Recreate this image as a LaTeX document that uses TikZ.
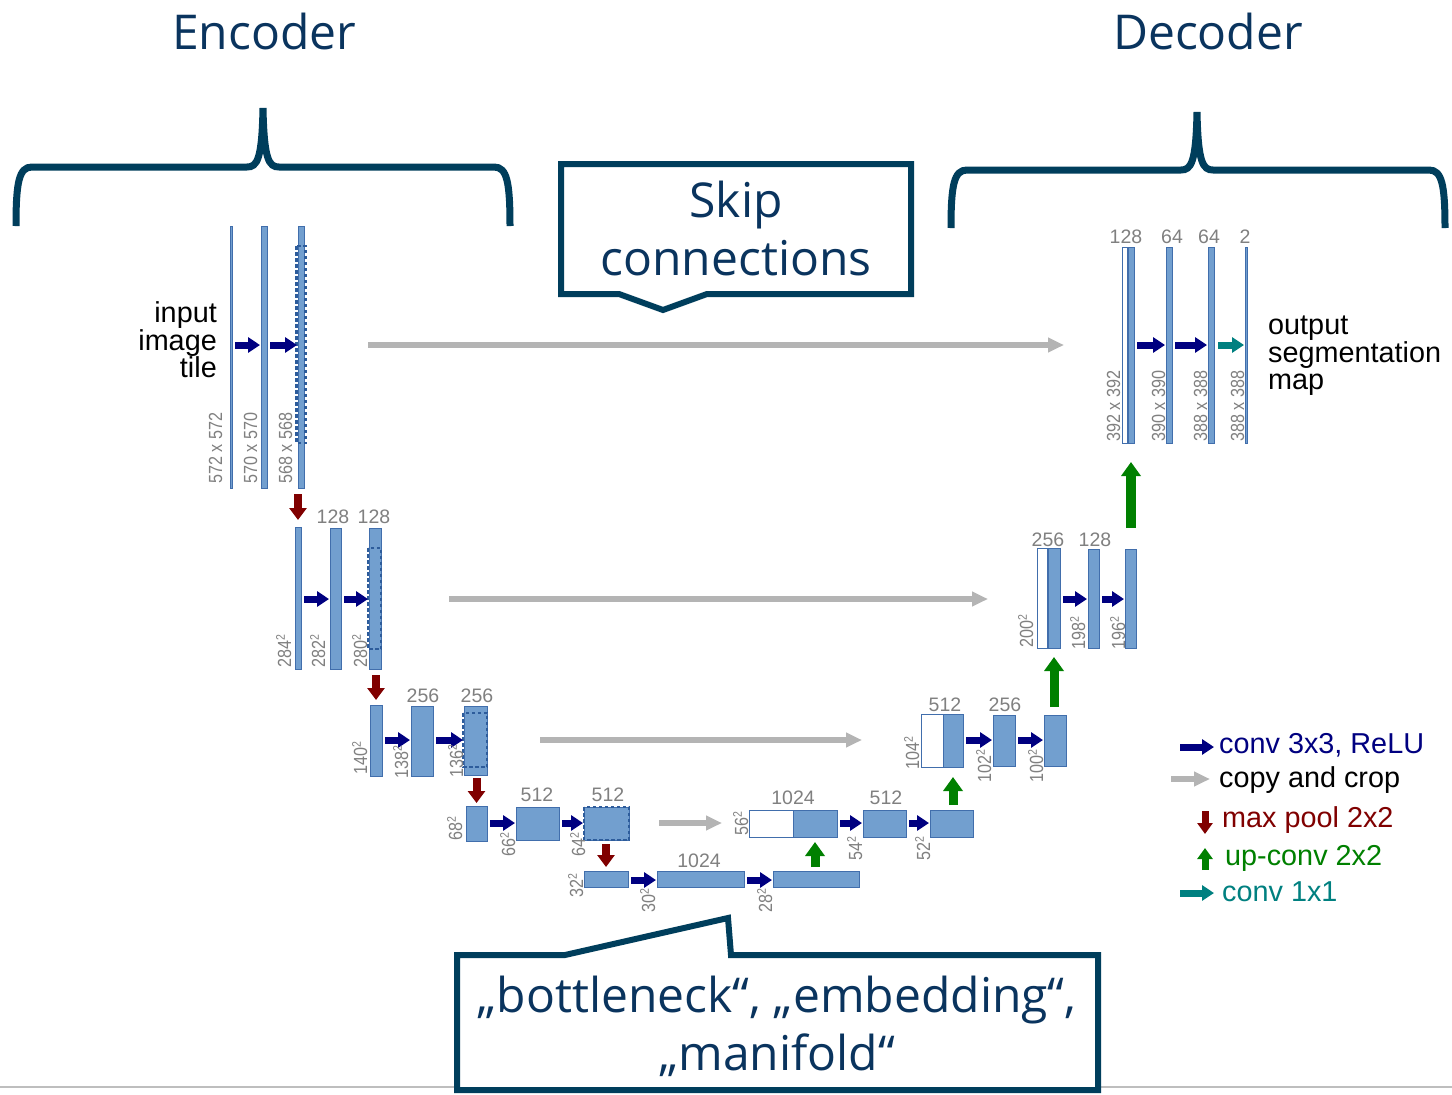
\documentclass[tikz,border=0pt]{standalone}
\usepackage{fontspec}
\setmainfont{Liberation Sans}
\newfontfamily\osans{Open Sans}
\newfontfamily\narrowsans[FakeStretch=0.85]{Liberation Sans}
\usetikzlibrary{arrows.meta}

\definecolor{blkfill}{RGB}{114,159,207}
\definecolor{blkline}{RGB}{65,110,172}
\definecolor{dashcol}{RGB}{45,92,155}
\definecolor{convcol}{RGB}{0,0,128}
\definecolor{copycol}{RGB}{180,180,180}
\definecolor{poolcol}{RGB}{128,0,0}
\definecolor{upcol}{RGB}{0,128,0}
\definecolor{onecol}{RGB}{0,128,128}
\definecolor{dimcol}{RGB}{128,128,128}
\definecolor{brcol}{RGB}{0,62,92}
\definecolor{ttlcol}{RGB}{10,52,94}
\definecolor{rulecol}{RGB}{190,190,190}

\newcommand\mydimfont{\narrowsans\fontsize{19}{19}\selectfont}
\newcommand\mychnfont{\fontsize{19.5}{19.5}\selectfont}
\newcommand\mylblfont{\fontsize{28.8}{27.5}\selectfont}
\newcommand\mytitlefont{\osans\fontsize{48}{58}\selectfont}
% squared exponent for the feature-map sizes
\newcommand\sqd{\raisebox{0.32em}{\fontsize{12.5}{12.5}\selectfont 2}}

\tikzset{
  blk/.style={rectangle, draw=blkline, fill=blkfill, line width=0.8pt,
    inner sep=0pt, outer sep=0pt, anchor=north west},
  wblk/.style={blk, fill=white},
  sz/.style 2 args={minimum width=#1pt, minimum height=#2pt},
  dashbox/.style={draw=dashcol, line width=2.8pt, dash pattern=on 3.5pt off 2.5pt},
  conv/.style={draw=convcol, line width=7pt, -{Triangle[length=12pt,width=15pt]},
    shorten <=3pt, shorten >=1pt},
  onebyone/.style={conv, draw=onecol},
  copyarr/.style={draw=copycol, line width=5.5pt, -{Triangle[length=16pt,width=14pt]}},
  pool/.style={draw=poolcol, line width=8pt, -{Triangle[length=12pt,width=17pt]}},
  upconv/.style={draw=upcol, line width=9pt, -{Triangle[length=14pt,width=19pt]}},
  chn/.style={text=dimcol, font=\mychnfont, inner sep=0pt},
  dimlbl/.style={text=dimcol, font=\mydimfont, inner sep=0pt, rotate=90, anchor=base west},
  bracestroke/.style={draw=brcol, line width=7pt},
  calloutbox/.style={draw=brcol, line width=6pt, fill=white, line join=miter},
  lbl/.style={font=\mylblfont, inner sep=0pt},
  ttl/.style={text=ttlcol, font=\mytitlefont, inner sep=0pt, align=center},
}

\begin{document}
\begin{tikzpicture}[x=1pt, y=-1pt]
\useasboundingbox (0,0) rectangle (1452,1095);
\fill[white] (0,0) rectangle (1452,1095);

% footer rule
\draw[rulecol, line width=2pt] (0,1087) -- (1452,1087);

% ---- titles and braces ----
\node[ttl] (enc) at (264,31) {Encoder};
\node[ttl] (dec) at (1208,31) {Decoder};

\draw[bracestroke] (16,226) .. controls (16,182) and (19,167) .. (32,167)
  -- (247,167) .. controls (257,167) and (262,160) .. (263,108)
  .. controls (264,160) and (269,167) .. (279,167)
  -- (494,167) .. controls (507,167) and (510,182) .. (510,226);
\draw[bracestroke] (951,228) .. controls (951,185) and (954,170) .. (967,170)
  -- (1181,170) .. controls (1191,170) and (1196,163) .. (1197,112)
  .. controls (1198,163) and (1203,170) .. (1213,170)
  -- (1429,170) .. controls (1442,170) and (1445,185) .. (1445,228);

% ---- callouts ----
\draw[calloutbox] (561,164) -- (911,164) -- (911,294) -- (707,294) -- (663,310)
  -- (619,294) -- (561,294) -- cycle;
\node[ttl] (skip) at (736,228) {Skip\\connections};

\draw[calloutbox] (457,955) -- (565,955) -- (728,918) -- (731,955) -- (1098,955)
  -- (1098,1090) -- (457,1090) -- cycle;
\node[ttl] (bott) at (777,1026) {„bottleneck“, „embedding“,\\„manifold“};

% ---- contracting path ----
\node[blk, sz={1.5}{262}] (e1a) at (230.5,226) {};
\node[blk, sz={6}{262}] (e1b) at (261,226) {};
\node[blk, sz={6}{262}] (e1c) at (298,226) {};
\draw[dashbox] (296.5,246) rectangle (305.5,443);

\node[blk, sz={6}{142}] (e2a) at (295,527) {};
\node[blk, sz={11}{141}] (e2b) at (330,528) {};
\node[blk, sz={12}{141}] (e2c) at (369,528) {};
\draw[dashbox] (368,548) rectangle (381,649);

\node[blk, sz={12}{71}] (e3a) at (370,705) {};
\node[blk, sz={22}{70}] (e3b) at (411,706) {};
\node[blk, sz={23}{69}] (e3c) at (464,706) {};
\draw[dashbox] (463,713) rectangle (487,767);

\node[blk, sz={21}{35}] (e4a) at (466,806) {};
\node[blk, sz={43}{33}] (e4b) at (516,807) {};
\node[blk, sz={45}{33}] (e4c) at (584,807) {};
\draw[dashbox] (e4c.north west) rectangle (e4c.south east);

\node[blk, sz={44}{16}] (e5a) at (584,871) {};
\node[blk, sz={87}{16}] (e5b) at (657,871) {};
\node[blk, sz={86}{16}] (e5c) at (773,871) {};

% ---- expanding path ----
\node[wblk, sz={44}{27}] (d4w) at (749,810) {};
\node[blk, sz={44}{27}] (d4b) at (793,810) {};
\node[blk, sz={43}{27}] (d4c2) at (863,810) {};
\node[blk, sz={43}{27}] (d4c3) at (930,810) {};

\node[wblk, sz={22}{53}] (d3w) at (921,714) {};
\node[blk, sz={20}{53}] (d3b) at (943,714) {};
\node[blk, sz={22}{51}] (d3c2) at (993,715) {};
\node[blk, sz={22}{51}] (d3c3) at (1044,715) {};

\node[wblk, sz={10}{100}] (d2w) at (1037,548) {};
\node[blk, sz={12}{100}] (d2b) at (1048,548) {};
\node[blk, sz={11}{99}] (d2c2) at (1088,549) {};
\node[blk, sz={11}{99}] (d2c3) at (1125,549) {};

\node[wblk, sz={5}{196}] (d1w) at (1122,247) {};
\node[blk, sz={6}{196}] (d1b) at (1128,247) {};
\node[blk, sz={6}{196}] (d1c2) at (1166,247) {};
\node[blk, sz={6}{196}] (d1c3) at (1208,247) {};
\node[blk, sz={1.5}{196}] (d1o) at (1245.5,247) {};

% ---- arrow rows ----
\coordinate (r1) at (0,345);
\coordinate (r2) at (0,599);
\coordinate (r3) at (0,740);
\coordinate (r4) at (0,823);
\coordinate (r5) at (0,880);

% conv 3x3
\draw[conv] (e1a.east |- r1) -- (e1b.west |- r1);
\draw[conv] (e1b.east |- r1) -- (e1c.west |- r1);
\draw[conv] (e2a.east |- r2) -- (e2b.west |- r2);
\draw[conv] (e2b.east |- r2) -- (e2c.west |- r2);
\draw[conv] (e3a.east |- r3) -- (e3b.west |- r3);
\draw[conv] (e3b.east |- r3) -- (e3c.west |- r3);
\draw[conv] (e4a.east |- r4) -- (e4b.west |- r4);
\draw[conv] (e4b.east |- r4) -- (e4c.west |- r4);
\draw[conv] (e5a.east |- r5) -- (e5b.west |- r5);
\draw[conv] (e5b.east |- r5) -- (e5c.west |- r5);
\draw[conv] (d4b.east |- r4) -- (d4c2.west |- r4);
\draw[conv] (d4c2.east |- r4) -- (d4c3.west |- r4);
\draw[conv] (d3b.east |- r3) -- (d3c2.west |- r3);
\draw[conv] (d3c2.east |- r3) -- (d3c3.west |- r3);
\draw[conv] (d2b.east |- r2) -- (d2c2.west |- r2);
\draw[conv] (d2c2.east |- r2) -- (d2c3.west |- r2);
\draw[conv] (d1b.east |- r1) -- (d1c2.west |- r1);
\draw[conv] (d1c2.east |- r1) -- (d1c3.west |- r1);
\draw[onebyone, shorten <=4pt, shorten >=1.5pt] (d1c3.east |- r1) -- (d1o.west |- r1);

% max pool
\draw[pool, shorten <=6pt, shorten >=7pt] (e2a.north |- e1c.south) -- (e2a.north);
\draw[pool, shorten <=6pt, shorten >=5pt] (e3a.north |- e2c.south) -- (e3a.north);
\draw[pool, shorten <=3pt, shorten >=3pt] (e4a.north |- e3c.south) -- (e4a.north);
\draw[pool, shorten <=4pt, shorten >=4pt] (e5a.north |- e4c.south) -- (e5a.north);

% up-conv
\draw[upconv, shorten <=4pt, shorten >=5pt] (d4b.south |- e5c.north) -- (d4b.south);
\draw[upconv, shorten <=5pt, shorten >=10pt] (d3b.south |- d4c3.north) -- (d3b.south);
\draw[upconv, shorten <=8pt, shorten >=9pt] (d2b.south |- d3c3.north) -- (d2b.south);
\draw[upconv, line width=10pt, shorten <=21pt, shorten >=19pt] (d1b.south |- d2c3.north) -- (d1b.south);

% copy and crop
\coordinate (k1s) at (368,345);  \coordinate (k1e) at (1064,345);
\coordinate (k2s) at (449,599);  \coordinate (k2e) at (988,599);
\coordinate (k3s) at (540,740);  \coordinate (k3e) at (862,740);
\coordinate (k4s) at (659,823);  \coordinate (k4e) at (722,823);
\draw[copyarr] (k1s) -- (k1e);
\draw[copyarr] (k2s) -- (k2e);
\draw[copyarr] (k3s) -- (k3e);
\draw[copyarr] (k4s) -- (k4e);

% ---- channel counts ----
\node[chn] (t1) at (1126,237) {128};
\node[chn] (t2) at (1172,237) {64};
\node[chn] (t3) at (1209,237) {64};
\node[chn] (t4) at (1245,237) {2};
\node[chn] (t5) at (333,517) {128};
\node[chn] (t6) at (374,517) {128};
\node[chn] (t7) at (423,696) {256};
\node[chn] (t8) at (477,696) {256};
\node[chn] (t9) at (537,795) {512};
\node[chn] (t10) at (608,795) {512};
\node[chn] (t11) at (699,861) {1024};
\node[chn] (t12) at (793,798) {1024};
\node[chn] (t13) at (886,798) {512};
\node[chn] (t14) at (945,705) {512};
\node[chn] (t15) at (1005,705) {256};
\node[chn] (t16) at (1048,540) {256};
\node[chn] (t17) at (1095,540) {128};

% ---- feature map sizes ----
\node[dimlbl] (s1) at (222,484) {572 x 572};
\node[dimlbl] (s2) at (257,484) {570 x 570};
\node[dimlbl] (s3) at (292,484) {568 x 568};
\node[dimlbl] (s4) at (291,668) {284\sqd};
\node[dimlbl] (s5) at (325,668) {282\sqd};
\node[dimlbl] (s6) at (367,668) {280\sqd};
\node[dimlbl] (s7) at (367,775) {140\sqd};
\node[dimlbl] (s8) at (408,779) {138\sqd};
\node[dimlbl] (s9) at (463,778) {136\sqd};
\node[dimlbl] (s10) at (462,841) {68\sqd};
\node[dimlbl] (s11) at (515,857) {66\sqd};
\node[dimlbl] (s12) at (585,857) {64\sqd};
\node[dimlbl] (s13) at (583,898) {32\sqd};
\node[dimlbl] (s14) at (655,913) {30\sqd};
\node[dimlbl] (s15) at (772,913) {28\sqd};
\node[dimlbl] (s16) at (748,836) {56\sqd};
\node[dimlbl] (s17) at (862,861) {54\sqd};
\node[dimlbl] (s18) at (930,861) {52\sqd};
\node[dimlbl] (s19) at (919,770) {104\sqd};
\node[dimlbl] (s20) at (991,783) {102\sqd};
\node[dimlbl] (s21) at (1043,783) {100\sqd};
\node[dimlbl] (s22) at (1033,648) {200\sqd};
\node[dimlbl] (s23) at (1085,650) {198\sqd};
\node[dimlbl] (s24) at (1125,650) {196\sqd};
\node[dimlbl] (s25) at (1120,442) {392 x 392};
\node[dimlbl] (s26) at (1165,442) {390 x 390};
\node[dimlbl] (s27) at (1207,442) {388 x 388};
\node[dimlbl] (s28) at (1244,442) {388 x 388};

% ---- input / output captions ----
\node[lbl, align=right, anchor=east] (inp) at (217,340) {input\\image\\tile};
\node[lbl, align=left, anchor=west] (outp) at (1268,356) {output\\segmentation\\map};

% ---- legend ----
\coordinate (lg1s) at (1180,747); \coordinate (lg1e) at (1214,747);
\coordinate (lg2s) at (1171,779); \coordinate (lg2e) at (1210,779);
\coordinate (lg3s) at (1205,811); \coordinate (lg3e) at (1205,834);
\coordinate (lg4s) at (1205,870); \coordinate (lg4e) at (1205,848);
\coordinate (lg5s) at (1180,893); \coordinate (lg5e) at (1214,893);
\draw[conv, shorten <=0pt, shorten >=0pt] (lg1s) -- (lg1e);
\draw[copyarr] (lg2s) -- (lg2e);
\draw[pool, line width=7pt, -{Triangle[length=11pt,width=15pt]}] (lg3s) -- (lg3e);
\draw[upconv, line width=7pt, -{Triangle[length=11pt,width=15pt]}] (lg4s) -- (lg4e);
\draw[onebyone, shorten <=0pt, shorten >=0pt] (lg5s) -- (lg5e);
\node[lbl, text=convcol, anchor=base west] (lg1t) at (1219,753) {conv 3x3, ReLU};
\node[lbl, text=black, anchor=base west] (lg2t) at (1219,787) {copy and crop};
\node[lbl, text=poolcol, anchor=base west] (lg3t) at (1222,827) {max pool 2x2};
\node[lbl, text=upcol, anchor=base west] (lg4t) at (1225,865) {up-conv 2x2};
\node[lbl, text=onecol, anchor=base west] (lg5t) at (1222,901) {conv 1x1};
\end{tikzpicture}
\end{document}
